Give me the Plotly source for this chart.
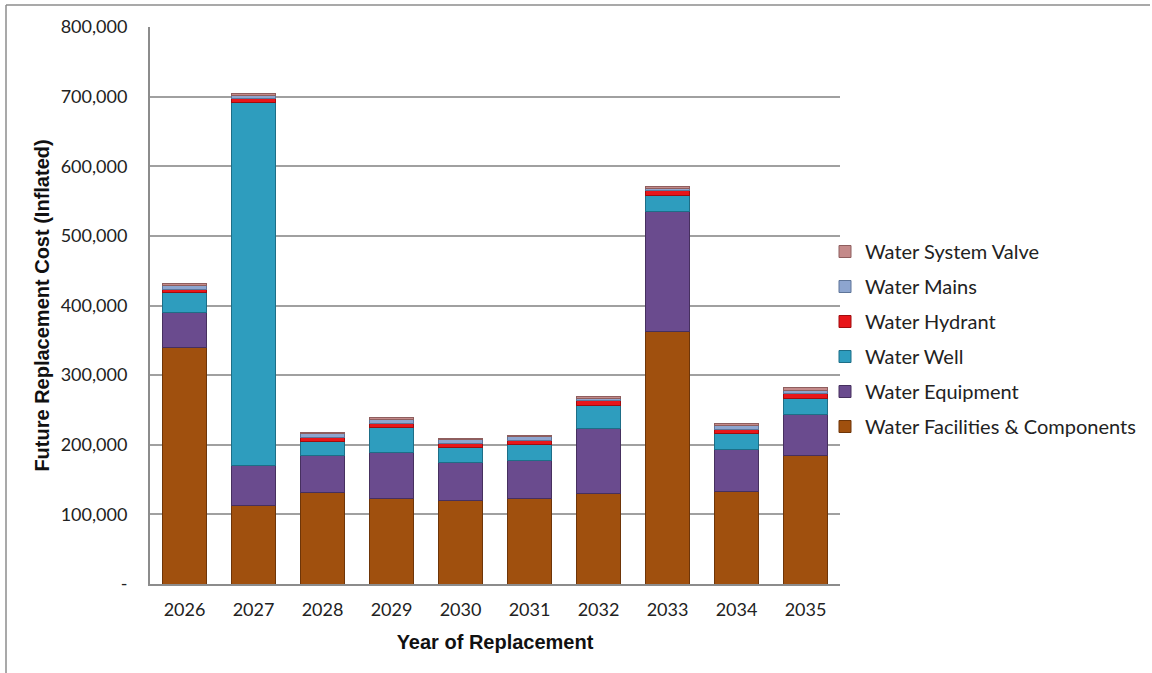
import plotly.graph_objects as go

# Replacement years
years = ["2026", "2027", "2028", "2029", "2030", "2031", "2032", "2033", "2034", "2035"]

# Future replacement cost (inflated) by asset group, per year
facilities = [340000, 113000, 132000, 122500, 120500, 123000, 130000, 362500, 133500, 184000]
equipment = [50000, 56500, 52000, 66000, 53500, 54000, 94000, 172500, 59500, 60000]
well = [28000, 522500, 20500, 36000, 22000, 23000, 33000, 23000, 22500, 23000]
hydrant = [5500, 6000, 5500, 6500, 6000, 6000, 6500, 6500, 6500, 6000]
mains = [5000, 4000, 5500, 5500, 5000, 5500, 3500, 4000, 5500, 5500]
valve = [2500, 3000, 2000, 2000, 2000, 2500, 2500, 2000, 2500, 3500]

# Y axis ticks
y_tickvals = [0, 100000, 200000, 300000, 400000, 500000, 600000, 700000, 800000]
y_ticktext = ["-", "100,000", "200,000", "300,000", "400,000", "500,000",
              "600,000", "700,000", "800,000"]

series = [
    ("Water Facilities & Components", facilities, "#A0500E", "#6E3508"),
    ("Water Equipment", equipment, "#6A4B8E", "#46305F"),
    ("Water Well", well, "#2E9DBE", "#1D6E87"),
    ("Water Hydrant", hydrant, "#E8161A", "#A00D0F"),
    ("Water Mains", mains, "#8DA5CF", "#5E7599"),
    ("Water System Valve", valve, "#C48A8A", "#8E5E5E"),
]

fig = go.Figure()
n = len(series)
for i, (name, vals, fill, edge) in enumerate(series):
    fig.add_trace(go.Bar(
        name=name, x=years, y=vals, legendgroup=name,
        legendrank=(n - i) * 100,
        marker=dict(color=fill, line=dict(color=edge, width=1)),
    ))

# Plot area placement in pixels
W, H = 1152, 673
L, R, T, B = 150, 840, 27, 584

def px_x(px):
    return (px - L) / (R - L)

def px_y(py):
    return (B - py) / (B - T)

TICK_FONT = "Lato, Open Sans, sans-serif"
TITLE_FONT = "Liberation Sans, Arial, sans-serif"

fig.update_layout(
    width=W, height=H,
    margin=dict(l=L, r=W - R, t=T, b=H - B, pad=0, autoexpand=False),
    barmode="stack", bargap=0.35,
    plot_bgcolor="white", paper_bgcolor="white",
    font=dict(family=TICK_FONT, size=18, color="#222222"),
    legend=dict(
        traceorder="grouped", tracegroupgap=6,
        x=px_x(825), y=px_y(232), xanchor="left", yanchor="top",
        font=dict(family=TICK_FONT, size=20, color="#222222"),
        itemwidth=30, bgcolor="rgba(0,0,0,0)",
    ),
    xaxis=dict(
        showline=True, linecolor="#8C8C8C", linewidth=2,
        ticks="", ticklabelstandoff=8, tickfont=dict(size=18, color="#222222"),
        title=dict(text="<b>Year of Replacement</b>", standoff=16,
                   font=dict(family=TITLE_FONT, size=20, color="#111111")),
    ),
    yaxis=dict(
        range=[0, 800000], tickvals=y_tickvals, ticktext=y_ticktext,
        showline=True, linecolor="#8C8C8C", linewidth=2,
        showgrid=True, gridcolor="#A0A0A0", gridwidth=2,
        zeroline=False, ticks="", ticklabelstandoff=17,
        tickfont=dict(size=18, color="#222222"),
        title=dict(text="<b>Future Replacement Cost (Inflated)</b>", standoff=6,
                   font=dict(family=TITLE_FONT, size=20, color="#111111")),
    ),
    shapes=[
        dict(type="line", xref="paper", yref="paper",
             x0=px_x(6), x1=px_x(1150), y0=px_y(5), y1=px_y(5),
             line=dict(color="#8C8C8C", width=1.5)),
        dict(type="line", xref="paper", yref="paper",
             x0=px_x(6), x1=px_x(6), y0=px_y(5), y1=px_y(680),
             line=dict(color="#8C8C8C", width=1.5)),
    ],
)

fig.write_html("out.html")
